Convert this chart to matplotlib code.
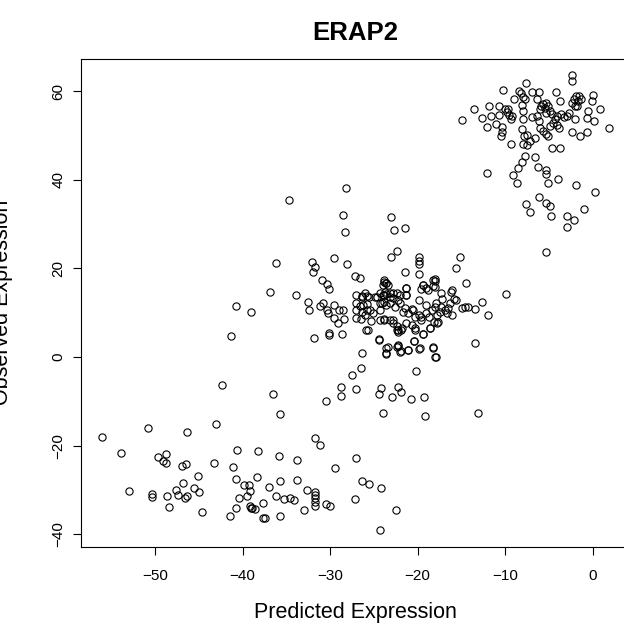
import numpy as np
import matplotlib
matplotlib.use("Agg")
import matplotlib.pyplot as plt

# upper right group (predicted, observed)
pred_hi = [-14.9, -13.6, -12.6, -12.1, -11.8, -11.6, -11.1, -10.7, -10.7, -10.5, -10.2, -10.4, -10.0,
           -9.85, -9.6, -9.4, -9.2, -9.7, -9.4, -9.0, -8.4, -8.2, -8.0, -7.7, -7.6, -8.1, -7.95, -7.95,
           -8.1, -7.9, -8.0, -7.5, -7.2, -6.6, -6.95, -6.4, -6.2, -6.9, -6.4, -6.2, -6.0, -5.9, -5.7,
           -5.5, -5.4, -5.3, -5.1, -4.9, -4.7, -6.0, -5.7, -5.3, -5.1, -4.9, -4.6, -4.3, -4.1, -4.1,
           -3.9, -4.2, -3.7, -3.6, -3.3, -3.0, -2.7, -2.4, -2.4, -2.4, -2.2, -2.05, -1.9, -1.7, -1.6,
           -1.4, -1.8, -2.05, -0.7, -0.55, -0.15, 0.0, 0.17, 0.8, 1.86, -0.7, -1.5, -2.4, -4.7, -3.7,
           -7.8, -6.6, -10.4, -7.5,
           -12.1, -9.1, -8.6, -8.1, -8.7, -6.3, -5.4, -5.3, -5.1, -4.0, -1.9, 0.2, -6.2, -7.6, -7.2,
           -5.3, -4.9, -4.8, -3.0, -2.1, -1.0, -3.0, -5.3]
obs_hi = [53.5, 56.1, 54.0, 52.0, 56.7, 54.4, 52.5, 56.7, 54.6, 49.9, 60.4, 50.8, 55.9,
          55.3, 54.6, 53.7, 54.4, 55.9, 48.2, 58.2, 60.0, 59.6, 58.8, 58.2, 61.8, 56.8, 55.5, 53.7,
          51.5, 50.0, 48.0, 47.8, 48.8, 49.5, 59.9, 58.3, 59.9, 54.1, 54.4, 53.3, 56.1, 56.7, 57.1,
          56.3, 55.1, 57.4, 56.7, 55.5, 54.8, 51.8, 51.0, 50.3, 49.9, 52.1, 52.9, 53.7, 54.4, 52.3,
          51.8, 59.9, 57.8, 54.8, 54.2, 54.4, 55.2, 63.6, 62.3, 57.4, 58.3, 56.7, 58.9, 57.8, 58.9,
          58.3, 56.7, 53.8, 54.0, 55.5, 57.8, 59.1, 53.4, 56.1, 51.8, 50.9, 49.9, 50.9, 47.2, 47.2,
          45.4, 45.2, 52.0, 50.2,
          41.6, 41.2, 42.6, 44.1, 39.2, 42.8, 42.2, 41.3, 39.3, 40.3, 38.8, 37.2, 36.2, 34.5, 32.8,
          34.8, 34.1, 31.9, 31.9, 30.9, 33.4, 29.4, 23.8]

# middle group
pred_mid = [-34.7, -28.2, -28.5, -28.3, -23.1, -22.7, -21.5, -22.4, -23.0, -29.6, -32.1, -31.7, -31.9,
            -28.1, -27.2, -26.6, -30.9, -23.9, -21.5, -19.9, -19.9, -19.9, -19.9, -18.0,
            -36.2, -36.9, -33.9, -40.8, -39.0, -41.3, -42.4,
            -30.4, -30.1, -32.5, -32.4, -31.2, -30.8, -30.4, -30.2, -29.6, -29.5, -28.95, -28.5, -28.4,
            -29.1, -28.6, -30.1, -30.1, -31.8, -27.0, -26.4, -25.8, -25.3, -25.9, -25.7, -24.4, -26.4,
            -26.5, -27.5, -23.6, -23.6, -22.2, -21.9, -21.1, -20.2, -19.7, -20.4, -18.2, -18.0,
            -15.2, -15.6, -14.5, -9.9, -12.6, -12.0, -13.5, -13.5, -14.2, -14.6, -14.9, -15.6, -16.2,
            -24.2, -24.4, -22.9, -22.2, -21.9, -20.8, -19.3, -24.0, -19.2, -13.1,
            -24.7, -24.3, -23.9, -23.6, -23.2, -22.8, -22.4, -24.0, -23.6, -23.4, -24.3, -23.9, -23.6,
            -23.2, -22.6, -22.0, -21.4, -21.1, -20.7, -20.3, -19.9, -19.6, -19.0, -18.4, -18.0, -24.3,
            -23.9, -23.2, -22.8, -22.4, -22.2, -21.8, -21.3, -20.7, -20.3, -19.4, -18.6, -17.8, -21.3,
            -21.3, -19.4, -19.0, -18.2, -18.0,
            -27.0, -26.6, -27.1, -26.4, -25.8, -25.4, -26.0, -27.1, -26.5,
            -15.9, -16.3, -16.5, -16.1, -16.7, -16.9, -17.3, -17.5, -17.8, -17.7, -18.0, -18.3, -18.8,
            -19.4, -19.6, -21.3, -21.3, -22.0, -22.2, -22.8, -23.2, -23.7, -23.9, -23.6, -24.0, -21.7,
            -22.8, -22.4, -22.2, -21.9, -23.9, -24.3, -25.1, -25.8, -26.2, -26.4, -26.0, -25.6, -24.9,
            -24.1, -18.6, -19.4, -20.3, -20.4, -19.8, -18.2, -17.9, -21.1, -22.0, -23.4, -23.6, -24.4,
            -22.2, -22.4, -17.3, -16.1, -17.2, -17.9, -19.0, -19.8, -20.5, -19.6, -18.7, -18.1]
obs_mid = [35.4, 38.2, 32.1, 28.3, 31.7, 28.7, 29.1, 23.9, 22.6, 22.3, 21.5, 20.4, 19.1,
           21.1, 18.3, 17.8, 17.4, 17.4, 19.3, 22.6, 21.7, 21.1, 18.8, 17.5,
           21.3, 14.7, 13.9, 11.6, 10.2, 4.7, -6.3,
           16.5, 15.3, 12.5, 10.6, 11.5, 12.1, 10.6, 9.9, 8.7, 11.7, 10.6, 10.6, 8.5,
           7.6, 5.3, 5.5, 5.0, 4.2, 14.0, 13.8, 13.8, 8.1, 6.1, 6.0, 3.8, 1.0,
           -2.4, -4.1, 2.0, 0.7, 2.5, 1.4, 1.5, -3.2, 2.1, 3.6, 2.1, 0.0,
           22.6, 20.0, 16.6, 14.2, 12.5, 9.5, 3.2, 10.8, 11.4, 11.2, 11.0, 12.9, 14.7,
           -6.9, -8.3, -9.0, -6.7, -7.9, -9.5, -9.0, -12.7, -13.3, -12.7,
           13.6, 14.4, 14.0, 14.2, 13.6, 14.4, 14.5, 16.3, 16.8, 16.3, 12.1, 12.5, 11.7,
           12.1, 11.4, 12.1, 11.0, 9.9, 10.8, 9.1, 9.5, 8.4, 9.9, 10.6, 11.4, 8.4,
           8.5, 8.4, 7.6, 6.1, 5.7, 6.5, 7.6, 7.2, 6.5, 5.3, 6.5, 7.6, 15.5,
           14.0, 16.3, 15.5, 17.4, 15.9,
           12.1, 11.5, 10.7, 10.2, 11.9, 10.7, 9.5, 8.9, 8.5,
           13.2, 12.1, 11.0, 9.5, 9.9, 10.6, 11.4, 10.2, 9.5, 8.0, 17.2, 16.0, 15.1,
           16.3, 15.3, 15.5, 14.0, 14.0, 12.9, 13.3, 14.4, 14.7, 17.0, 16.6, 14.0, 10.2,
           8.4, 6.9, 6.1, 6.1, 8.4, 10.6, 9.9, 10.6, 11.7, 13.6, 14.4, 13.6, 13.6,
           12.1, 6.5, 5.3, 6.1, 3.7, 1.9, 2.2, 0.1, 1.6, 1.2, 2.3, 0.8, 4.0,
           2.7, 2.3, 14.4, 15.1, 13.0, 12.1, 11.7, 12.9, 10.6, 9.1, 9.1, 8.0]

# lower left group
pred_lo = [-43.0, -50.8, -46.3, -56.1, -53.9, -48.7, -49.7, -49.1, -48.7, -46.9, -46.5, -43.3, -45.1,
           -46.8, -45.5, -45.0, -47.6, -47.4, -53.0, -50.3, -50.3, -48.6, -46.3, -46.6, -48.4, -44.6,
           -41.4,
           -36.5, -35.7, -30.5, -28.7, -28.8, -27.1, -31.7, -31.1, -27.1, -29.4, -26.4, -25.6, -27.2,
           -40.6, -38.2, -35.8, -33.8, -41.1, -40.8, -38.3, -35.7, -33.8, -39.8, -39.3, -39.1, -37.0,
           -39.5, -40.4, -40.8, -39.2, -38.9, -38.6, -39.0, -37.7, -37.7, -37.4, -36.2, -35.3, -34.6,
           -34.1, -35.7, -33.0, -32.6, -31.7, -31.7, -31.7, -31.7, -31.7, -30.5, -30.0, -24.3, -22.5,
           -24.2]
obs_lo = [-15.2, -16.1, -16.9, -18.1, -21.6, -21.9, -22.6, -23.4, -23.9, -24.5, -24.2, -24.0, -26.9,
          -28.4, -29.5, -30.4, -30.0, -31.2, -30.2, -30.9, -31.5, -31.3, -31.4, -31.9, -33.8, -34.9,
          -35.9,
          -8.4, -12.9, -9.9, -6.8, -8.7, -7.3, -18.2, -19.9, -22.7, -25.1, -27.9, -28.7, -32.1,
          -21.1, -21.2, -22.3, -23.3, -24.9, -27.6, -27.0, -28.1, -27.8, -29.0, -28.8, -30.2, -29.4,
          -31.4, -31.9, -34.0, -33.6, -34.0, -34.4, -34.2, -33.0, -36.3, -36.3, -31.4, -32.1, -31.9,
          -32.4, -35.8, -34.5, -30.0, -30.4, -31.2, -31.9, -32.7, -33.6, -33.2, -33.6, -39.1, -34.5,
          -29.5]

x_ticks = [-50, -40, -30, -20, -10, 0]
y_ticks = [-40, -20, 0, 20, 40, 60]

pred = np.array(pred_hi + pred_mid + pred_lo)
obs = np.array(obs_hi + obs_mid + obs_lo)

W, H = 624, 626
plt.rcParams['font.family'] = ['Liberation Sans', 'DejaVu Sans']
fig = plt.figure(figsize=(W / 100, H / 100), dpi=100)

# plot box in pixels: left 81.4, right 629.6 (cut off), top 58.5, bottom 547
ax = fig.add_axes([81.4 / W, (H - 547) / H, 548.2 / W, 488.5 / H])
ax.plot(pred, obs, 'o', mfc='none', mec='black', ms=5.2, mew=0.8)

ax.set_xlim(-58.4, 4.2)
ax.set_ylim(-42.9, 67.4)
ax.set_xticks(x_ticks)
ax.set_yticks(y_ticks)
ax.tick_params(direction='out', length=5.5, width=0.8, labelsize=11, colors='black')
ax.tick_params(axis='x', pad=10)
ax.tick_params(axis='y', pad=6)
for lab in ax.get_yticklabels():
    lab.set_rotation(90)
    lab.set_verticalalignment('center')
for s in ax.spines.values():
    s.set_linewidth(0.8)

fig.text(355 / W, 1 - 40 / H, 'ERAP2', ha='center', va='baseline', fontsize=18.5, fontweight='bold')
fig.text(355 / W, 1 - 618 / H, 'Predicted Expression', ha='center', va='baseline', fontsize=15.5)
fig.text(8 / W, 1 - 302.75 / H, 'Observed Expression', rotation=90, rotation_mode='anchor',
         ha='center', va='baseline', fontsize=15.5)

fig.savefig('out.png', dpi=100)
